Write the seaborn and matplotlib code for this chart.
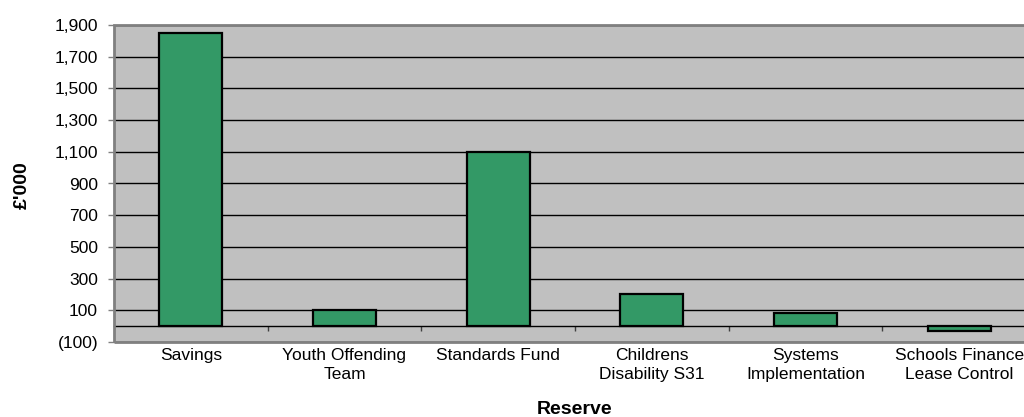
import matplotlib
matplotlib.use("Agg")
import matplotlib.pyplot as plt
import seaborn as sns
import pandas as pd
from matplotlib.patches import Rectangle
from matplotlib.ticker import FixedLocator, FuncFormatter

categories = ["Savings", "Youth Offending\nTeam", "Standards Fund",
              "Childrens\nDisability S31", "Systems\nImplementation",
              "Schools Finance\nLease Control"]
values = [1850, 100, 1100, 205, 83, -28]
y_ticks = list(range(-100, 2000, 200))

df = pd.DataFrame({"Reserve": categories, "Value": values})

sns.set_theme(style="white")
plt.rcParams['font.family'] = ['Liberation Sans', 'DejaVu Sans']
plt.rcParams['text.color'] = 'black'
plt.rcParams['axes.labelcolor'] = 'black'
plt.rcParams['xtick.labelcolor'] = 'black'
plt.rcParams['ytick.labelcolor'] = 'black'

fig = plt.figure(figsize=(10.24, 4.17), dpi=100)
ax = fig.add_axes([114/1024, 75/417, 922/1024, 317/417])
ax.set_facecolor('#C0C0C0')

sns.barplot(data=df, x="Reserve", y="Value", color='#339966', saturation=1,
            edgecolor='black', linewidth=1.6, width=0.41, ax=ax, zorder=3)

ax.set_xlim(-0.5, len(categories) - 0.5)
ax.set_ylim(-100, 1900)
ax.yaxis.set_major_locator(FixedLocator(y_ticks))
ax.yaxis.set_major_formatter(FuncFormatter(
    lambda v, p: f"({abs(int(v)):,})" if v < 0 else f"{int(v):,}"))
ax.yaxis.grid(True, color='black', linewidth=1.0, zorder=1)
ax.set_axisbelow(True)

for s in ['left', 'top', 'right']:
    ax.spines[s].set_visible(False)
ax.spines['bottom'].set_position(('data', 0))
ax.spines['bottom'].set_color('black')
ax.spines['bottom'].set_linewidth(1.0)
ax.spines['bottom'].set_zorder(2)

ax.add_patch(Rectangle((0, 0), 1, 1, transform=ax.transAxes, fill=False,
                       edgecolor='#808080', linewidth=2, clip_on=False, zorder=4))

ax.tick_params(axis='y', which='major', left=True, length=4.5, width=1,
               color='#808080', pad=7, labelsize=12.5, labelcolor='black')
ax.set_xticks(range(len(categories)))
ax.set_xticklabels(categories, fontsize=12.5, linespacing=1.3, color='black')
ax.tick_params(axis='x', which='major', bottom=True, length=0, pad=16)
ax.set_xticks([i + 0.5 for i in range(len(categories) - 1)], minor=True)
ax.tick_params(axis='x', which='minor', bottom=True, length=3.8, width=1,
               color='#404040', direction='out')

ax.set_xlabel("Reserve", fontsize=14, fontweight='bold', color='black')
ax.set_ylabel("£'000", fontsize=14, fontweight='bold', color='black')
ax.xaxis.set_label_coords((575 - 114) / 922, -(401 - 342) / 317)
ax.yaxis.set_label_coords(-(114 - 31) / 922, (342 - 185) / 317)

fig.savefig("out.png", dpi=100)
